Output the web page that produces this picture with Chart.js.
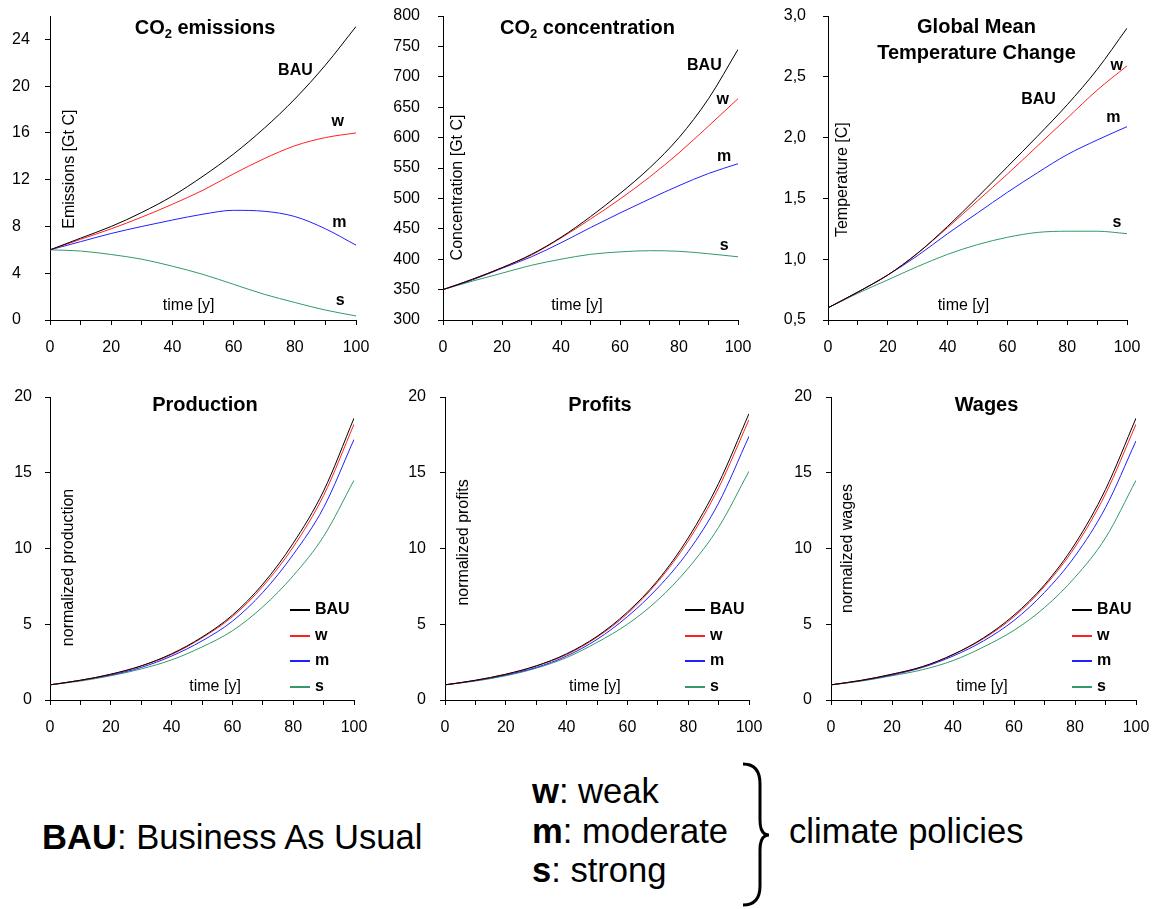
<!DOCTYPE html>
<html><head><meta charset="utf-8">
<script src="https://cdn.jsdelivr.net/npm/chart.js@4.4.0/dist/chart.umd.min.js"></script>
<style>
html,body{margin:0;padding:0;background:#fff;}
#wrap{position:relative;width:1152px;height:909px;overflow:hidden;background:#fff;}
#wrap canvas{position:absolute;}
#notes{position:absolute;left:0;top:740px;}
</style></head><body>
<div id="wrap">
<svg id="notes" width="1152" height="169" font-family="'Liberation Sans', Arial, Helvetica, sans-serif" font-size="34.6" fill="#000">
  <text x="42" y="109"><tspan font-weight="bold">BAU</tspan>: Business As Usual</text>
  <text x="532" y="63"><tspan font-weight="bold">w</tspan>: weak</text>
  <text x="532" y="103"><tspan font-weight="bold">m</tspan>: moderate</text>
  <text x="532" y="142"><tspan font-weight="bold">s</tspan>: strong</text>
  <text x="789" y="103">climate policies</text>
  <path d="M 743 24 Q 760 24 760 44 L 760 80 Q 760 95 769 95 Q 760 95 760 110 L 760 146 Q 760 165 743 165" fill="none" stroke="#000" stroke-width="3"/>
</svg>
</div>
<script>
// ---------- data ----------
const years = [0, 10, 20, 30, 40, 50, 60, 70, 80, 90, 100];
const seriesNames = ['BAU', 'w', 'm', 's'];

const emisBAU = [6.0, 7.0, 8.0, 9.2, 10.6, 12.3, 14.2, 16.4, 18.9, 21.8, 25.1];
const emisW   = [6.0, 6.9, 7.8, 8.8, 9.9, 11.1, 12.5, 13.8, 14.9, 15.6, 16.0];
const emisM   = [6.0, 6.7, 7.4, 8.0, 8.55, 9.05, 9.38, 9.3, 8.85, 7.8, 6.4];
const emisS   = [6.0, 5.9, 5.6, 5.2, 4.6, 3.9, 3.05, 2.2, 1.5, 0.85, 0.35];

const concBAU = [350, 367, 386, 408, 436, 470, 508, 550, 600, 664, 745];
const concW   = [350, 367, 386, 407, 435, 466, 499, 535, 575, 619, 664];
const concM   = [350, 366, 385, 404, 427, 452, 476, 499, 521, 541, 557];
const concS   = [350, 364, 377, 390, 400, 408, 412, 414, 413, 409, 404];

const tempBAU = [0.60, 0.73, 0.87, 1.05, 1.27, 1.51, 1.76, 2.01, 2.27, 2.56, 2.90];
const tempW   = [0.60, 0.73, 0.87, 1.05, 1.26, 1.48, 1.70, 1.93, 2.16, 2.39, 2.59];
const tempM   = [0.60, 0.73, 0.87, 1.03, 1.21, 1.38, 1.55, 1.71, 1.86, 1.98, 2.09];
const tempS   = [0.60, 0.72, 0.83, 0.94, 1.04, 1.12, 1.18, 1.22, 1.23, 1.23, 1.21];

const prodBAU = [1.0, 1.3, 1.7, 2.25, 3.05, 4.15, 5.6, 7.65, 10.35, 13.8, 18.6];
const prodW   = [1.0, 1.3, 1.7, 2.25, 3.0, 4.1, 5.5, 7.5, 10.1, 13.5, 18.2];
const prodM   = [1.0, 1.3, 1.65, 2.15, 2.9, 3.9, 5.2, 7.1, 9.6, 12.7, 17.2];
const prodS   = [1.0, 1.25, 1.6, 2.05, 2.65, 3.5, 4.57, 6.15, 8.2, 10.8, 14.5];

const profBAU = [1.0, 1.3, 1.7, 2.25, 3.05, 4.2, 5.8, 7.9, 10.7, 14.3, 18.9];
const profW   = [1.0, 1.3, 1.7, 2.25, 3.0, 4.15, 5.7, 7.8, 10.5, 14.0, 18.5];
const profM   = [1.0, 1.28, 1.65, 2.15, 2.9, 4.0, 5.5, 7.4, 9.8, 13.0, 17.4];
const profS   = [1.0, 1.25, 1.6, 2.1, 2.8, 3.8, 5.0, 6.6, 8.7, 11.4, 15.1];

const wageBAU = [1.0, 1.3, 1.7, 2.2, 3.0, 4.1, 5.6, 7.6, 10.3, 13.9, 18.6];
const wageW   = [1.0, 1.3, 1.7, 2.2, 3.0, 4.05, 5.5, 7.5, 10.1, 13.6, 18.2];
const wageM   = [1.0, 1.28, 1.65, 2.15, 2.9, 3.9, 5.25, 7.1, 9.5, 12.7, 17.1];
const wageS   = [1.0, 1.25, 1.6, 2.0, 2.6, 3.5, 4.6, 6.1, 8.1, 10.7, 14.5];

// ---------- style ----------
const FONT = "'Liberation Sans', Arial, Helvetica, sans-serif";
Chart.defaults.font.family = FONT;
Chart.defaults.color = '#000';
const COLORS = { BAU: '#000000', w: '#ff2020', m: '#2020ff', s: '#339966' };

const annotPlugin = {
  id: 'annot',
  afterDatasetsDraw(chart, args, o) {
    const { ctx, chartArea: a, scales } = chart;
    const xs = scales.x, ys = scales.y;
    ctx.save();
    ctx.fillStyle = '#000';
    (o.title || []).forEach((parts, li) => {
      let total = 0;
      const ws = parts.map(p => {
        ctx.font = 'bold ' + (p.sub ? 13 : 20) + 'px ' + FONT;
        const w = ctx.measureText(p.t).width; total += w; return w;
      });
      let cx = (a.left + a.right) / 2 + (o.titleDx || 0) - total / 2;
      const by = a.top + o.titleBase + li * 26;
      ctx.textAlign = 'left'; ctx.textBaseline = 'alphabetic';
      parts.forEach((p, i) => {
        ctx.font = 'bold ' + (p.sub ? 13 : 20) + 'px ' + FONT;
        ctx.fillText(p.t, cx, by + (p.sub ? 4 : 0));
        cx += ws[i];
      });
    });
    (o.notes || []).forEach(n => {
      const px = xs.getPixelForValue(n.x), py = ys.getPixelForValue(n.y);
      ctx.font = (n.bold ? 'bold ' : '') + '16px ' + FONT;
      ctx.textAlign = 'center'; ctx.textBaseline = 'middle';
      if (n.rot) {
        ctx.save(); ctx.translate(px, py); ctx.rotate(-Math.PI / 2);
        ctx.fillText(n.t, 0, 0); ctx.restore();
      } else ctx.fillText(n.t, px, py);
    });
    if (o.legend) {
      chart.data.datasets.forEach((ds, i) => {
        const y = Math.round(a.bottom - 90 + i * 25.7);
        ctx.strokeStyle = ds.borderColor; ctx.lineWidth = 2;
        ctx.beginPath(); ctx.moveTo(a.right - 64, y); ctx.lineTo(a.right - 44, y); ctx.stroke();
        ctx.font = 'bold 16px ' + FONT;
        ctx.textAlign = 'left'; ctx.textBaseline = 'middle';
        ctx.fillText(ds.label, a.right - 39, y);
      });
    }
    ctx.restore();
  }
};

const panels = [
  { pl: 50, pr: 356, pt: 16, pb: 320, yMin: 0, yMax: 26, yStep: 4, yAlign: 'far', yPad: 0,
    series: [emisBAU, emisW, emisM, emisS],
    title: [[{ t: 'CO' }, { t: '2', sub: 1 }, { t: ' emissions' }]], titleBase: 18, titleDx: 2,
    notes: [
      { t: 'BAU', x: 80.2, y: 21.3, bold: 1 }, { t: 'w', x: 94, y: 17.0, bold: 1 },
      { t: 'm', x: 94.6, y: 8.3, bold: 1 }, { t: 's', x: 94.8, y: 1.7, bold: 1 },
      { t: 'time [y]', x: 45.3, y: 1.25 }, { t: 'Emissions [Gt C]', x: 6.4, y: 12.9, rot: 1 }
    ] },
  { pl: 443, pr: 738, pt: 16, pb: 320, yMin: 300, yMax: 800, yStep: 50, yAlign: 'near', yPad: 18,
    series: [concBAU, concW, concM, concS],
    title: [[{ t: 'CO' }, { t: '2', sub: 1 }, { t: ' concentration' }]], titleBase: 18, titleDx: -3,
    notes: [
      { t: 'BAU', x: 88.6, y: 718, bold: 1 }, { t: 'w', x: 94.8, y: 662, bold: 1 },
      { t: 'm', x: 95.3, y: 568, bold: 1 }, { t: 's', x: 95.3, y: 423, bold: 1 },
      { t: 'time [y]', x: 45.4, y: 323 }, { t: 'Concentration [Gt C]', x: 5.1, y: 518, rot: 1 }
    ] },
  { pl: 828, pr: 1127, pt: 16, pb: 320, yMin: 0.5, yMax: 3.0, yStep: 0.5, yAlign: 'near', yPad: 17, comma: 1,
    series: [tempBAU, tempW, tempM, tempS],
    title: [[{ t: 'Global Mean' }], [{ t: 'Temperature Change' }]], titleBase: 17, titleDx: -1,
    notes: [
      { t: 'BAU', x: 70.4, y: 2.31, bold: 1 }, { t: 'w', x: 96.6, y: 2.594, bold: 1 },
      { t: 'm', x: 95.4, y: 2.165, bold: 1 }, { t: 's', x: 96.6, y: 1.30, bold: 1 },
      { t: 'time [y]', x: 45.3, y: 0.615 }, { t: 'Temperature [C]', x: 5.0, y: 1.654, rot: 1 }
    ] },
  { pl: 50, pr: 354, pt: 397, pb: 700, yMin: 0, yMax: 20, yStep: 5, yAlign: 'near', yPad: 13,
    series: [prodBAU, prodW, prodM, prodS], legend: 1,
    title: [[{ t: 'Production' }]], titleBase: 14, titleDx: 3,
    notes: [{ t: 'time [y]', x: 54.3, y: 0.88 }, { t: 'normalized production', x: 6.0, y: 8.75, rot: 1 }] },
  { pl: 445, pr: 749, pt: 397, pb: 700, yMin: 0, yMax: 20, yStep: 5, yAlign: 'near', yPad: 14,
    series: [profBAU, profW, profM, profS], legend: 1,
    title: [[{ t: 'Profits' }]], titleBase: 14, titleDx: 3,
    notes: [{ t: 'time [y]', x: 49.3, y: 0.88 }, { t: 'normalized profits', x: 6.25, y: 10.4, rot: 1 }] },
  { pl: 831, pr: 1136, pt: 397, pb: 700, yMin: 0, yMax: 20, yStep: 5, yAlign: 'near', yPad: 14,
    series: [wageBAU, wageW, wageM, wageS], legend: 1,
    title: [[{ t: 'Wages' }]], titleBase: 14, titleDx: 3,
    notes: [{ t: 'time [y]', x: 49.5, y: 0.88 }, { t: 'normalized wages', x: 5.6, y: 10.0, rot: 1 }] }
];

const wrap = document.getElementById('wrap');
const LEFT = 50, TOP = 16, RIGHT = 30, BOTTOM = 40;
const zeroPad = s => { s.paddingTop = 0; s.paddingBottom = 0; s.paddingLeft = 0; s.paddingRight = 0; };

panels.forEach(p => {
  const cv = document.createElement('canvas');
  const w = (p.pr - p.pl) + LEFT + RIGHT;
  const h = (p.pb - p.pt) + TOP + BOTTOM;
  cv.width = w; cv.height = h;
  cv.style.width = w + 'px'; cv.style.height = h + 'px';
  cv.style.left = (p.pl - LEFT) + 'px'; cv.style.top = (p.pt - TOP) + 'px';
  wrap.appendChild(cv);
  const padLeft = p.yAlign === 'far' ? 12 : 0;
  const axisGrid = { display: true, drawOnChartArea: false, drawTicks: true, tickLength: 5, color: '#000', lineWidth: 1 };
  new Chart(cv, {
    type: 'line',
    data: {
      datasets: seriesNames.map((n, i) => ({
        label: n,
        data: years.map((x, j) => ({ x: x, y: p.series[i][j] })),
        borderColor: COLORS[n], backgroundColor: COLORS[n],
        borderWidth: 1, pointRadius: 0, fill: false, cubicInterpolationMode: 'monotone'
      }))
    },
    options: {
      responsive: false, animation: false, devicePixelRatio: 1,
      layout: { padding: { left: padLeft, top: TOP, right: RIGHT, bottom: 0 } },
      plugins: { legend: { display: false }, tooltip: { enabled: false }, title: { display: false },
        annot: { title: p.title, titleBase: p.titleBase, titleDx: p.titleDx, notes: p.notes, legend: p.legend } },
      scales: {
        x: {
          type: 'linear', min: 0, max: 100,
          border: { display: true, color: '#000', width: 1 },
          grid: axisGrid,
          ticks: { stepSize: 10, autoSkip: false, maxRotation: 0, padding: 13, color: '#000',
            font: { size: 16, family: FONT },
            callback: v => (v % 20 === 0 ? String(v) : '') },
          afterFit: s => { s.height = BOTTOM; zeroPad(s); }
        },
        y: {
          type: 'linear', min: p.yMin, max: p.yMax,
          border: { display: true, color: '#000', width: 1 },
          grid: axisGrid,
          ticks: { stepSize: p.yStep, includeBounds: false, autoSkip: false, color: '#000',
            crossAlign: p.yAlign, padding: p.yPad,
            font: { size: 16, family: FONT },
            callback: v => p.comma ? v.toFixed(1).replace('.', ',') : String(v) },
          afterFit: s => { s.width = LEFT - padLeft; zeroPad(s); }
        }
      }
    },
    plugins: [annotPlugin]
  });
});
</script>
</body></html>
